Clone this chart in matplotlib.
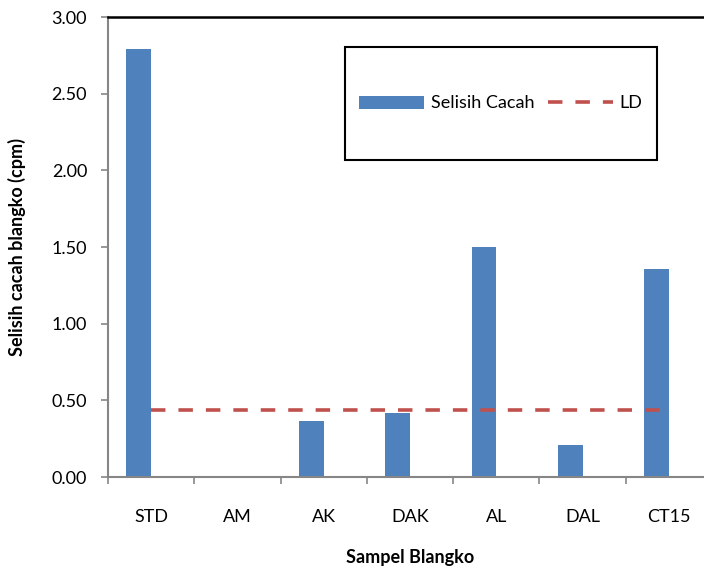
import matplotlib
matplotlib.use("Agg")
import matplotlib.pyplot as plt
from matplotlib.patches import Rectangle
import numpy as np

categories = ['STD', 'AM', 'AK', 'DAK', 'AL', 'DAL', 'CT15']
selisih_cacah = [2.79, 0.0, 0.365, 0.42, 1.50, 0.21, 1.355]
ld_values = [0.44, 0.44, 0.44, 0.44, 0.44, 0.44, 0.44]
y_ticks = [0.0, 0.5, 1.0, 1.5, 2.0, 2.5, 3.0]

plt.rcParams['font.family'] = ['Lato', 'DejaVu Sans']

BAR = '#4F81BD'
RED = '#C0504D'
GRAY = '#868686'
FS = 13

fig = plt.figure(figsize=(7.04, 5.69), dpi=100)
L, R, T, B = 108 / 704, 712 / 704, 1 - 17 / 569, 1 - 477 / 569
ax = fig.add_axes([L, B, R - L, T - B])

x = np.arange(len(categories))
bw = 1 / 3.5
bars = ax.bar(x - bw, selisih_cacah, width=bw, align='edge', color=BAR,
              label='Selisih Cacah', zorder=2)
line, = ax.plot(x, ld_values, color=RED, lw=2.6, dashes=(4.0, 3.6), label='LD', zorder=3)

ax.set_xlim(-0.5, len(categories) - 0.5)
ax.set_ylim(0, 3.0)
ax.set_yticks(y_ticks)
ax.set_yticklabels([f'{v:.2f}' for v in y_ticks], fontsize=FS)

ax.set_xticks(np.arange(len(categories) + 1) - 0.5)
ax.set_xticklabels([])
ax.set_xticks(x, minor=True)
ax.set_xticklabels(categories, minor=True, fontsize=FS)
ax.tick_params(axis='x', which='major', direction='out', length=5, width=1.2, color=GRAY)
ax.tick_params(axis='x', which='minor', length=0, pad=23)
ax.tick_params(axis='y', direction='out', length=5, width=1.2, color=GRAY, pad=10)

for s in ['left', 'bottom']:
    ax.spines[s].set_color(GRAY)
    ax.spines[s].set_linewidth(1.5)
ax.spines['top'].set_color('black')
ax.spines['top'].set_linewidth(1.8)
ax.spines['right'].set_color('black')
ax.spines['right'].set_linewidth(1.8)

ax.set_ylabel('Selisih cacah blangko (cpm)', fontsize=FS, fontweight='bold')
ax.set_xlabel('Sampel Blangko', fontsize=FS, fontweight='bold')
ax.yaxis.set_label_coords((26 - 108) / 604, 0.5)
ax.xaxis.set_label_coords(0.5, (477 - 549) / 460)

# legend box
bx0 = (345 - 108) / 604
bx1 = (657 - 108) / 604
by1 = (477 - 47) / 460
by0 = (477 - 160) / 460
ax.add_patch(Rectangle((bx0, by0), bx1 - bx0, by1 - by0, transform=ax.transAxes,
                       fill=False, edgecolor='black', lw=1.5, zorder=5, clip_on=False))
ax.legend([bars, line], ['Selisih Cacah', 'LD'], loc='center',
          bbox_to_anchor=((bx0 + bx1) / 2, (by0 + by1) / 2),
          ncol=2, frameon=False, fontsize=FS, handlelength=3.6, handleheight=0.75,
          handletextpad=0.4, columnspacing=0.7, borderpad=0)

fig.savefig('out.png', dpi=100)
